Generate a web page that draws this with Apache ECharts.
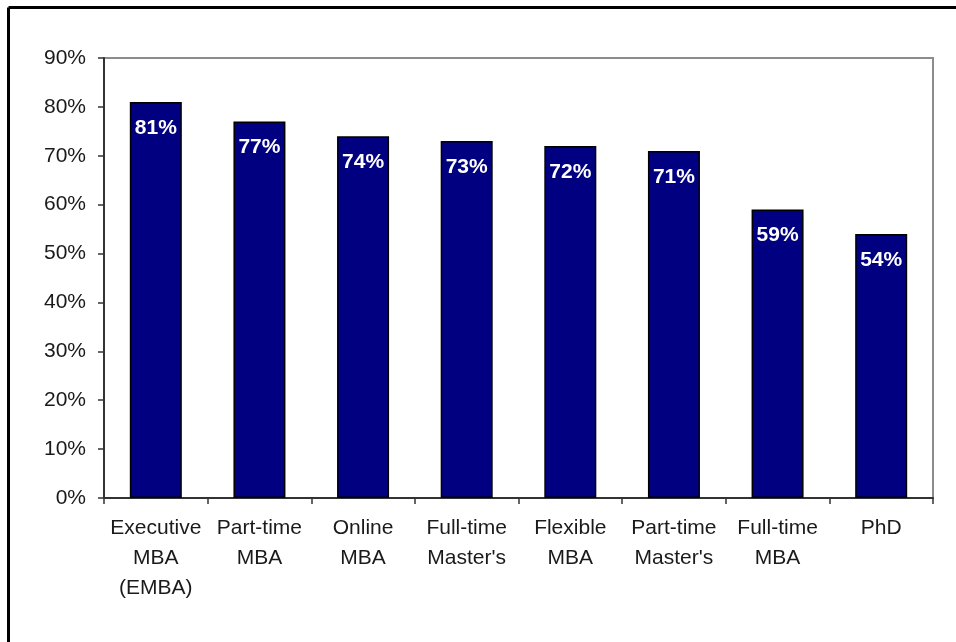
<!DOCTYPE html>
<html>
<head>
<meta charset="utf-8">
<script src="https://cdn.jsdelivr.net/npm/echarts@6/dist/echarts.min.js"></script>
<style>
  html, body { margin: 0; padding: 0; background: #fff; }
  #chart { width: 956px; height: 642px; }
</style>
</head>
<body>
<div id="chart"></div>
<script>
// Program types and share of respondents (percent)
const categories = [
  'Executive\nMBA\n(EMBA)',
  'Part-time\nMBA',
  'Online\nMBA',
  'Full-time\nMaster\'s',
  'Flexible\nMBA',
  'Part-time\nMaster\'s',
  'Full-time\nMBA',
  'PhD'
];
const values = [81, 77, 74, 73, 72, 71, 59, 54];

const chart = echarts.init(document.getElementById('chart'), null, { renderer: 'canvas' });

const font = 'Arial, "Liberation Sans", sans-serif';

chart.setOption({
  animation: false,
  backgroundColor: '#ffffff',
  graphic: [
    // frame lines along the top and left edges
    { type: 'line', shape: { x1: 8.5, y1: 7.5, x2: 956, y2: 7.5 }, style: { stroke: '#000', lineWidth: 3 } },
    { type: 'line', shape: { x1: 8.5, y1: 7.5, x2: 8.5, y2: 642 }, style: { stroke: '#000', lineWidth: 3 } }
  ],
  grid: {
    left: 104, right: 23, top: 58, bottom: 144,
    show: true,
    borderColor: '#8c8c8c',
    borderWidth: 2,
    backgroundColor: 'transparent'
  },
  xAxis: {
    type: 'category',
    data: categories,
    boundaryGap: true,
    axisLine: { lineStyle: { color: '#333', width: 2 } },
    axisTick: { show: true, alignWithLabel: false, length: 6, lineStyle: { color: '#333', width: 1.5 } },
    axisLabel: {
      interval: 0,
      color: '#1a1a1a',
      fontFamily: font,
      fontSize: 21,
      lineHeight: 30,
      margin: 15
    }
  },
  yAxis: {
    type: 'value',
    min: 0, max: 90, interval: 10,
    splitLine: { show: false },
    axisLine: { show: true, lineStyle: { color: '#333', width: 2 } },
    axisTick: { show: true, length: 6, lineStyle: { color: '#333', width: 1.5 } },
    axisLabel: {
      color: '#1a1a1a',
      fontFamily: font,
      fontSize: 21,
      margin: 18,
      formatter: v => v + '%'
    }
  },
  series: [{
    type: 'bar',
    data: values,
    barWidth: 52,
    itemStyle: { color: '#000080', borderColor: '#000', borderWidth: 1.5 },
    label: {
      show: true,
      position: 'insideTop',
      distance: 15.5,
      color: '#fff',
      fontFamily: font,
      fontWeight: 'bold',
      fontSize: 21,
      formatter: p => p.value + '%'
    }
  }]
});
</script>
</body>
</html>
